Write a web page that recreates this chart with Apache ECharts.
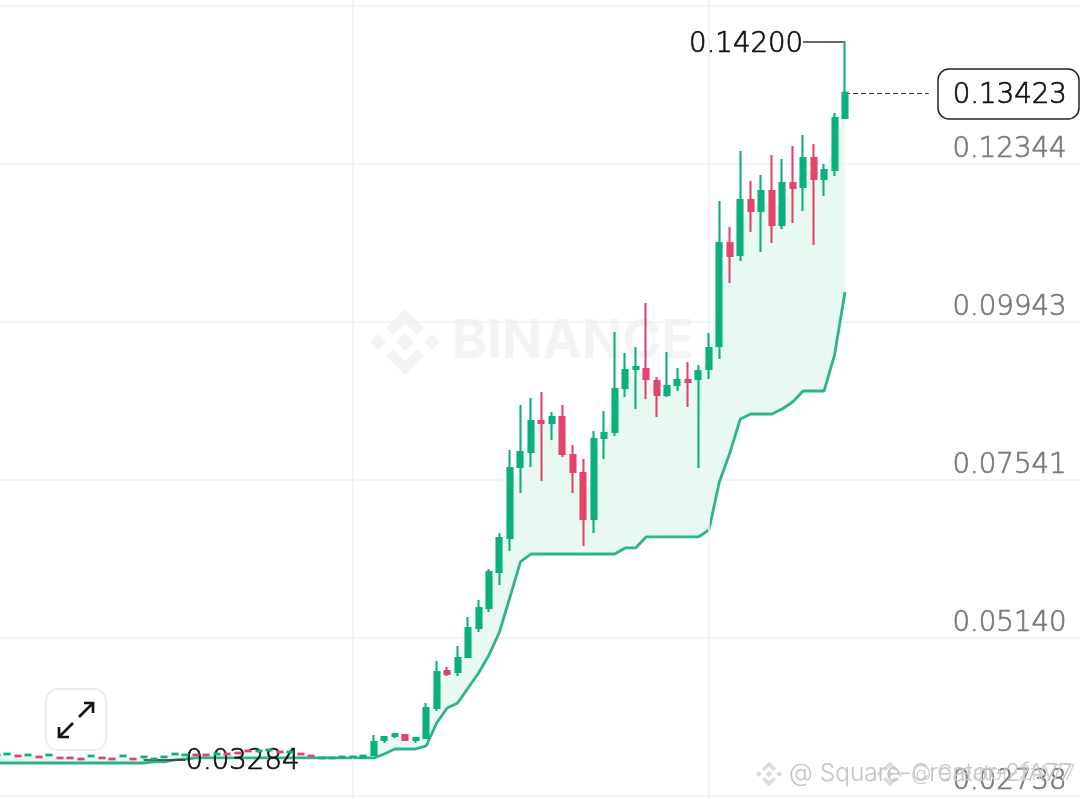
<!DOCTYPE html>
<html>
<head>
<meta charset="utf-8">
<style>html,body{margin:0;padding:0;background:#fff}#c{width:1080px;height:799px}</style>
<script src="https://cdn.jsdelivr.net/npm/echarts@6/dist/echarts.min.js"></script>
</head>
<body>
<div id="c"></div>
<script>
const opens = [.03356,.03371,.03351,.03356,.03336,.03356,.03321,.03321,.03305,.03341,.03321,.03305,.03341,.03305,.03326,.03295,.03326,.03371,.03356,.03366,.03366,.03371,.03381,.03396,.03427,.03417,.03432,.03412,.03402,.03381,.03351,.03311,.03311,.03326,.03326,.03326,
 .03361,.03589,.03650,.03665,.03589,.03620,.04075,.04638,.04622,.04850,.05291,.05595,.06142,.06658,.07738,.07965,.08436,.08406,.08497,.07920,.07646,.06947,.08178,.08269,.08938,.09227,.09227,.09044,.08832,.08984,.09060,.09075,.09227,.09576,.11141,.10959,.11795,.11628,.11932,.11415,.12053,.11992,.12433,.12114,.12251,.13041];
const closes = [.03366,.03381,.03341,.03366,.03326,.03366,.03311,.03311,.03295,.03351,.03311,.03295,.03351,.03295,.03336,.03305,.03336,.03381,.03366,.03356,.03356,.03381,.03371,.03386,.03417,.03427,.03442,.03402,.03412,.03371,.03341,.03321,.03321,.03336,.03336,.03351,
 .03559,.03635,.03680,.03589,.03620,.04075,.04622,.04592,.04835,.05291,.05595,.06142,.06658,.07722,.07965,.08436,.08406,.08497,.07935,.07661,.06947,.08163,.08254,.08923,.09211,.09257,.09075,.08832,.08968,.09060,.09029,.09196,.09546,.11141,.10944,.11795,.11628,.11932,.11415,.12053,.11977,.12433,.12114,.12251,.13041,.13423];
const lows = [.03356,.03371,.03341,.03356,.03326,.03356,.03311,.03311,.03295,.03341,.03311,.03295,.03341,.03295,.03326,.03295,.03326,.03371,.03356,.03356,.03356,.03371,.03371,.03386,.03417,.03417,.03432,.03402,.03402,.03371,.03341,.03311,.03311,.03326,.03326,.03326,
 .03346,.03544,.03620,.03589,.03544,.03620,.04030,.04562,.04562,.04850,.05230,.05534,.05944,.06461,.07342,.07738,.07525,.08148,.07889,.07342,.06537,.06735,.07859,.08209,.08801,.08619,.08771,.08497,.08801,.08892,.08649,.07722,.09075,.09379,.10534,.10868,.11309,.11005,.11141,.11354,.11445,.11628,.11111,.11856,.12160,.13041];
const highs = [.03366,.03381,.03351,.03366,.03336,.03366,.03321,.03321,.03305,.03351,.03321,.03305,.03351,.03305,.03336,.03305,.03336,.03381,.03366,.03366,.03366,.03381,.03381,.03396,.03427,.03427,.03442,.03412,.03412,.03381,.03351,.03321,.03321,.03336,.03336,.03351,
 .03665,.03650,.03695,.03665,.03620,.04151,.04790,.04698,.05017,.05458,.05716,.06187,.06735,.07996,.08680,.08786,.08877,.08573,.08680,.08072,.07859,.08284,.08588,.09789,.09470,.09561,.10230,.09105,.09485,.09242,.09333,.09287,.09774,.11780,.11385,.12539,.12084,.12175,.12479,.12418,.12615,.12783,.12646,.12342,.13117,.14200];
const trendStop = [.03239,.03239,.03239,.03239,.03239,.03239,.03239,.03239,.03239,.03239,.03239,.03239,.03239,.03239,.03239,.03255,.03255,.03285,.03300,.03316,.03316,.03316,.03316,.03316,.03316,.03316,.03316,.03316,.03316,.03316,.03316,.03316,.03316,.03316,.03316,.03316,.03316,
 .03376,.03452,.03452,.03452,.03498,.03847,.04075,.04151,.04379,.04607,.04881,.05230,.05762,.06294,.06415,.06415,.06415,.06415,.06415,.06415,.06415,.06415,.06415,.06507,.06507,.06674,.06674,.06674,.06674,.06674,.06674,.06780,.07510,.07950,.08467,.08543,.08543,.08543,.08619,.08725,.08892,.08892,.08892,.09439,.10397];
const priceTicks = [0.02738, 0.05140, 0.07541, 0.09943, 0.12344];
const gridTicks = [0.02738, 0.05140, 0.07541, 0.09943, 0.12344, 0.14746];
const verticalGrid = ['34', '68'];
const highPoint = {from: '77', to: '81', value: 0.14200, label: '0.14200'};
const lowPoint = {from: '14', to: '18', value: 0.03284, label: '0.03284'};
const lastPrice = {from: '81', to: '89', value: 0.13423, label: '0.13423'};
const categories = Array.from({length: 104}, (_, i) => String(i));

const GREEN = '#0bb07e', RED = '#e4446a', LINE = '#2db48c', FILL = '#e8f9f2', GRID = '#f1f1f1', FONT = '"DejaVu Sans"';
const candle = opens.map((o, i) => [o, closes[i], lows[i], highs[i]]);
const band = opens.map((o, i) => +(((o + closes[i]) / 2) - trendStop[i]).toFixed(5));

const wm = '#f3f3f3';
const sm = '#dcdcdc';
function diamond(cx, cy, r, fill) {
  return {type: 'polygon', silent: true, z: 0, shape: {points: [[cx, cy - r], [cx + r, cy], [cx, cy + r], [cx - r, cy]]}, style: {fill}};
}
function logo(cx, cy, s, fill) {
  const o = [];
  o.push(diamond(cx, cy, 9 * s, fill), diamond(cx - 27 * s, cy, 8 * s, fill), diamond(cx + 27 * s, cy, 8 * s, fill));
  [1, -1].forEach(d => o.push({type: 'polygon', silent: true, z: 0, shape: {points: [
    [cx, cy - d * 33 * s], [cx + 19 * s, cy - d * 14 * s], [cx + 12 * s, cy - d * 7 * s], [cx, cy - d * 19 * s], [cx - 12 * s, cy - d * 7 * s], [cx - 19 * s, cy - d * 14 * s]
  ]}, style: {fill}}));
  return o;
}
const arrowStyle = {stroke: '#111', lineWidth: 2.6, fill: null};
const graphics = [].concat(
  logo(405, 342, 1, wm),
  [{type: 'text', silent: true, z: 0, x: 452, y: 342, style: {text: 'BINANCE', fill: wm, font: '700 53px Inter', textVerticalAlign: 'middle'}}],
  [
    {type: 'rect', silent: true, z: 4, shape: {x: 938, y: 69, width: 141, height: 50, r: 11}, style: {fill: '#fff', stroke: '#222', lineWidth: 1.5}},
    {type: 'rect', z: 20, shape: {x: 46, y: 689, width: 60, height: 61, r: 12}, style: {fill: '#fff', stroke: '#ececec', lineWidth: 2}},
    {type: 'polyline', z: 21, shape: {points: [[59, 737], [73, 723]]}, style: arrowStyle},
    {type: 'polyline', z: 21, shape: {points: [[59, 727], [59, 737], [69, 737]]}, style: arrowStyle},
    {type: 'polyline', z: 21, shape: {points: [[79, 717], [93, 703]]}, style: arrowStyle},
    {type: 'polyline', z: 21, shape: {points: [[84, 703], [93, 703], [93, 713]]}, style: arrowStyle}
  ],
  logo(769, 774, 0.38, sm),
  logo(890, 774, 0.38, sm),
  [
    {type: 'text', silent: true, z: 22, x: 789, y: 774, style: {text: '@ Square-Creator-2fA77', fill: '#c4c4c4', font: '300 24.5px Inter', textVerticalAlign: 'middle'}},
    {type: 'text', silent: true, z: 22, x: 911, y: 774, style: {text: '@ Creator-2fA77', fill: '#cfcfcf', font: '300 21px Inter', textVerticalAlign: 'middle'}}
  ]
);

const chart = echarts.init(document.getElementById('c'), null, {width: 1080, height: 799});
const thin = {symbol: 'none', silent: true, animation: false};
const textStyle = {color: '#111', fontFamily: FONT, fontSize: 27.6, fontWeight: 200, textBorderColor: '#111', textBorderWidth: 0.7};
chart.setOption({
  animation: false,
  backgroundColor: '#fff',
  graphic: {elements: graphics},
  grid: {left: -8.3, top: 0, width: 1088.88, height: 799, containLabel: false, outerBoundsMode: 'none'},
  xAxis: {
    type: 'category', data: categories, boundaryGap: true,
    axisLine: {show: false}, axisTick: {show: false}, axisLabel: {show: false}, splitLine: {show: false}
  },
  yAxis: {
    type: 'value', position: 'right', min: 0.02692, max: 0.14834, scale: true,
    axisLine: {show: false},
    axisTick: {show: false, customValues: gridTicks},
    splitLine: {show: true, lineStyle: {color: GRID, width: 1.5}},
    axisLabel: {
      customValues: priceTicks, inside: true, margin: 14,
      color: '#7a7a7a', fontFamily: FONT, fontSize: 27.6, fontWeight: 200,
      textBorderColor: '#7a7a7a', textBorderWidth: 0.7,
      verticalAlign: 'bottom', lineHeight: 28,
      formatter: v => v.toFixed(5)
    }
  },
  series: [
    {
      type: 'line', name: 'stop', data: trendStop, stack: 'st', symbol: 'none', z: 3, silent: true,
      lineStyle: {color: LINE, width: 2.8}
    },
    {
      type: 'line', name: 'band', data: band, stack: 'st', symbol: 'none', z: 2, silent: true,
      lineStyle: {opacity: 0, width: 0}, areaStyle: {color: FILL, opacity: 1},
      markLine: Object.assign({}, thin, {
        lineStyle: {color: GRID, width: 1.5, type: 'solid'}, label: {show: false},
        data: verticalGrid.map(c => ({xAxis: c}))
      })
    },
    {
      type: 'candlestick', name: 'price', data: candle, barWidth: 5.5, z: 5, silent: true,
      itemStyle: {color: GREEN, color0: RED, borderColor: GREEN, borderColor0: RED, borderWidth: 2.1},
      markLine: Object.assign({}, thin, {
        data: [
          [{coord: [highPoint.from, highPoint.value], lineStyle: {color: '#333', width: 1.5, type: 'solid'},
            label: Object.assign({show: true, position: 'start', distance: 0, formatter: highPoint.label, offset: [0, 3]}, textStyle)},
           {coord: [highPoint.to, highPoint.value]}],
          [{coord: [lowPoint.from, lowPoint.value], lineStyle: {color: '#333', width: 1.5, type: 'solid'},
            label: Object.assign({show: true, position: 'end', distance: 0, formatter: lowPoint.label, offset: [0, 2]}, textStyle)},
           {coord: [lowPoint.to, lowPoint.value]}],
          [{coord: [lastPrice.from, lastPrice.value], lineStyle: {color: '#333', width: 1.2, type: [5, 3]},
            label: Object.assign({show: true, position: 'end', distance: 0, formatter: lastPrice.label, offset: [24, 3]}, textStyle)},
           {coord: [lastPrice.to, lastPrice.value]}]
        ]
      })
    }
  ]
});
</script>
</body>
</html>
